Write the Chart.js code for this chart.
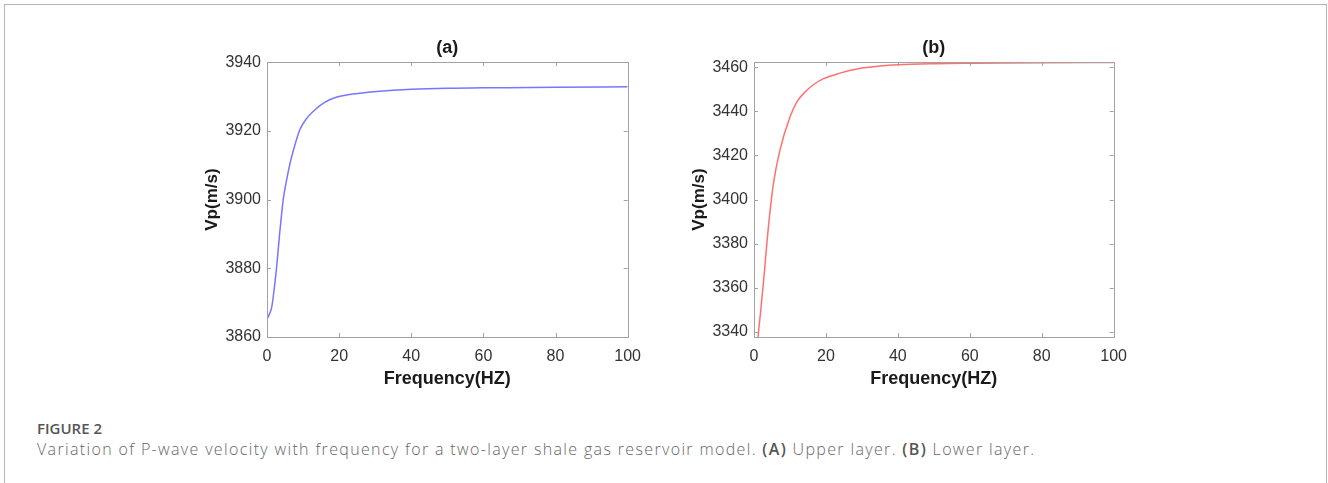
<!DOCTYPE html>
<html lang="en">
<head>
    <meta charset="UTF-8">
    <title>Figure 2 | P-wave velocity vs frequency</title>
    <script src="https://cdn.jsdelivr.net/npm/chart.js"></script>
    <style>
        body { margin: 0; background: #fff; width: 1328px; height: 483px; overflow: hidden; position: relative; }
        .card { position: absolute; left: 4px; top: 4px; width: 1321px; height: 500px; border: 1px solid #b4b4b4; border-bottom: none; }
        .panel { position: absolute; top: 30px; height: 363px; }
        #panelA { left: 198px; width: 453px; }
        #panelB { left: 685px; width: 452px; }
        .fig-label { position: absolute; left: 37px; top: 421px; line-height: 1; font-family: "Open Sans", sans-serif; font-size: 15px; font-weight: 600; color: #555; }
        .caption { position: absolute; left: 37px; top: 438px; font-family: "Open Sans", sans-serif; font-size: 16px; font-weight: 300; letter-spacing: 1.35px; color: #666; white-space: nowrap; }
        .caption b { font-weight: 600; color: #555; }
    </style>
</head>
<body>
    <div class="card"></div>
    <div class="panel" id="panelA"><canvas id="chartA"></canvas></div>
    <div class="panel" id="panelB"><canvas id="chartB"></canvas></div>
    <div class="fig-label">FIGURE 2</div>
    <div class="caption">Variation of P-wave velocity with frequency for a two-layer shale gas reservoir model. <b>(A)</b> Upper layer. <b>(B)</b> Lower layer.</div>

    <script>
        // (a) upper layer
        const freqA = [0, 0.5, 1.3, 2, 2.7, 3.5, 4.5, 5.5, 6.4, 7.5, 9.1, 11, 13.8, 16, 18.4, 23, 28, 35, 40, 50, 60, 80, 100];
        const vpA = [3865.2, 3866.3, 3868.6, 3874, 3880.7, 3890, 3900, 3906, 3910.6, 3915, 3920.3, 3923.6, 3926.6, 3928.3, 3929.5, 3930.6, 3931.2, 3931.8, 3932.1, 3932.4, 3932.5, 3932.7, 3932.8];
        const yTicksA = [3860, 3880, 3900, 3920, 3940];

        // (b) lower layer
        const freqB = [0, 1, 1.7, 2.6, 4, 5.4, 7.2, 10, 12, 14.6, 17, 19.2, 23.9, 29, 35, 40, 50, 60, 80, 100];
        const vpB = [3318, 3336, 3347, 3362, 3387.5, 3407.2, 3422.3, 3437.4, 3444.5, 3449.4, 3452.6, 3454.7, 3457.3, 3459.3, 3460.5, 3461.1, 3461.6, 3461.8, 3462.0, 3462.1];
        const yTicksB = [3340, 3360, 3380, 3400, 3420, 3440, 3460];

        const xTicks = [0, 20, 40, 60, 80, 100];

        const tickFont = { family: '"Liberation Sans", Arial, sans-serif', size: 16 };
        const boldFont = { family: '"Liberation Sans", Arial, sans-serif', size: 18, weight: 'bold' };

        // matlab style box with inward ticks on all four sides
        const boxPlugin = {
            id: 'box',
            afterDatasetsDraw(chart) {
                const { ctx, chartArea: a, scales: { x, y } } = chart;
                const len = 4;
                ctx.save();
                ctx.strokeStyle = '#a2a2a2';
                ctx.lineWidth = 1;
                ctx.strokeRect(Math.round(a.left) + 0.5, Math.round(a.top) + 0.5, Math.round(a.right - a.left), Math.round(a.bottom - a.top));
                ctx.beginPath();
                x.ticks.forEach(t => {
                    const px = Math.round(x.getPixelForValue(t.value)) + 0.5;
                    ctx.moveTo(px, a.bottom); ctx.lineTo(px, a.bottom - len);
                    ctx.moveTo(px, a.top); ctx.lineTo(px, a.top + len);
                });
                y.ticks.forEach(t => {
                    const py = Math.round(y.getPixelForValue(t.value)) + 0.5;
                    ctx.moveTo(a.left, py); ctx.lineTo(a.left + len, py);
                    ctx.moveTo(a.right, py); ctx.lineTo(a.right - len, py);
                });
                ctx.stroke();
                ctx.restore();
            }
        };

        function makePanel(id, title, xs, ys, color, yMin, yMax, yTicks) {
            new Chart(document.getElementById(id), {
                type: 'line',
                data: {
                    datasets: [{
                        data: xs.map((v, i) => ({ x: v, y: ys[i] })),
                        borderColor: color,
                        borderWidth: 1.5,
                        pointRadius: 0,
                        cubicInterpolationMode: 'monotone'
                    }]
                },
                options: {
                    responsive: true,
                    maintainAspectRatio: false,
                    animation: false,
                    layout: { padding: { left: 0, right: 10, top: 0, bottom: 0 } },
                    plugins: {
                        legend: { display: false },
                        tooltip: { enabled: false },
                        title: {
                            display: true,
                            text: title,
                            fullSize: false,
                            color: '#1a1a1a',
                            font: boldFont,
                            padding: { top: 7.5, bottom: 3 }
                        }
                    },
                    scales: {
                        x: {
                            type: 'linear',
                            min: 0,
                            max: 100,
                            afterBuildTicks: s => { s.ticks = xTicks.map(v => ({ value: v })); },
                            afterFit: s => { s.height = 56; },
                            grid: { display: false, drawTicks: false, tickLength: 0 },
                            border: { display: false },
                            ticks: { color: '#333', font: tickFont, padding: 10, maxRotation: 0, callback: v => String(v) },
                            title: { display: true, text: 'Frequency(HZ)', color: '#1a1a1a', font: boldFont, padding: { top: 0, bottom: 3 } }
                        },
                        y: {
                            min: yMin,
                            max: yMax,
                            afterBuildTicks: s => { s.ticks = yTicks.map(v => ({ value: v })); },
                            afterFit: s => { s.width = 69; },
                            grid: { display: false, drawTicks: false, tickLength: 0 },
                            border: { display: false },
                            ticks: { color: '#333', font: tickFont, padding: 6, callback: v => String(v) },
                            title: { display: true, text: 'Vp(m/s)', color: '#1a1a1a', font: { ...boldFont, size: 17 }, padding: { top: 4, bottom: 0 } }
                        }
                    }
                },
                plugins: [boxPlugin]
            });
        }

        makePanel('chartA', '(a)', freqA, vpA, 'rgb(118, 118, 255)', 3860, 3940, yTicksA);
        makePanel('chartB', '(b)', freqB, vpB, 'rgb(255, 112, 112)', 3337.7, 3462.3, yTicksB);
    </script>
</body>
</html>
